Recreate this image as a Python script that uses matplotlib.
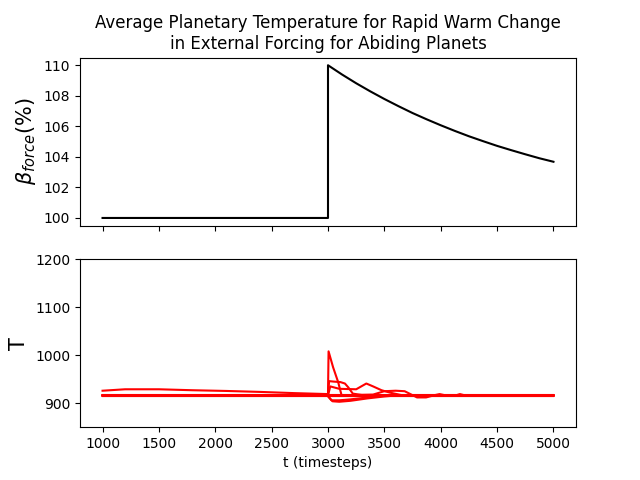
import matplotlib
matplotlib.use("Agg")
import matplotlib.pyplot as plt

# external forcing (percent)
force_t = [1000, 3000, 3000, 3125, 3250, 3375, 3500, 3625, 3750, 3875, 4000,
           4125, 4250, 4375, 4500, 4625, 4750, 4875, 5000]
force_b = [100, 100, 110, 109.39, 108.82, 108.29, 107.79, 107.32, 106.87,
           106.46, 106.07, 105.70, 105.35, 105.03, 104.72, 104.44, 104.17,
           103.91, 103.68]

# planet temperatures, one (t, T) pair per planet
base_t = [1000, 5000]
base_T1 = [916, 916]
base_T2 = [917, 917]
base_T3 = [915, 915]

p1_t = [1000, 1200, 1500, 1800, 2100, 2400, 2700, 3000, 3005, 3045, 3090,
        3120, 3200, 5000]
p1_T = [926, 929, 929, 927, 925.5, 923.5, 921, 919, 1008, 975, 944, 917,
        915, 916]

p2_t = [1000, 3000, 3010, 3050, 3110, 3150, 3180, 3220, 3300, 5000]
p2_T = [917, 917, 946, 945, 944, 941, 933, 920, 917, 917]

p3_t = [1000, 3000, 3020, 3100, 3250, 3340, 3400, 3475, 3550, 3650, 5000]
p3_T = [916, 916, 935, 930, 929, 941, 935, 927, 922, 917, 916]

p4_t = [1000, 2995, 3040, 3100, 3200, 3350, 3500, 3600, 5000]
p4_T = [916, 916, 904, 903, 905, 910, 914, 916, 916]

p5_t = [1000, 2995, 3030, 3100, 3200, 3350, 3450, 5000]
p5_T = [916, 916, 906, 906, 908, 912, 916, 916]

p6_t = [1000, 3000, 3400, 3500, 3600, 3680, 3790, 3870, 3950, 3990, 4050,
        4130, 4170, 4220, 5000]
p6_T = [916, 916, 918, 925, 926, 925, 912, 912, 917, 919, 916, 916, 919,
        916, 916]

fig, (ax1, ax2) = plt.subplots(2, 1, sharex=True, figsize=(6.4, 4.8), dpi=100)

ax1.plot(force_t, force_b, color="black", lw=1.5)
ax1.set_ylabel(r"$\beta_{force}(\%)$", fontsize=15)
ax1.set_title("Average Planetary Temperature for Rapid Warm Change\n"
              "in External Forcing for Abiding Planets", fontsize=12)

for t, T in [(base_t, base_T1), (base_t, base_T2), (base_t, base_T3),
             (p1_t, p1_T), (p2_t, p2_T), (p3_t, p3_T), (p4_t, p4_T),
             (p5_t, p5_T), (p6_t, p6_T)]:
    ax2.plot(t, T, color="red", lw=1.5)
ax2.set_ylim(850, 1200)
ax2.set_yticks([900, 1000, 1100, 1200])
ax2.set_ylabel("T", fontsize=15)
ax2.set_xlabel("t (timesteps)")

fig.savefig("out.png", dpi=100)
